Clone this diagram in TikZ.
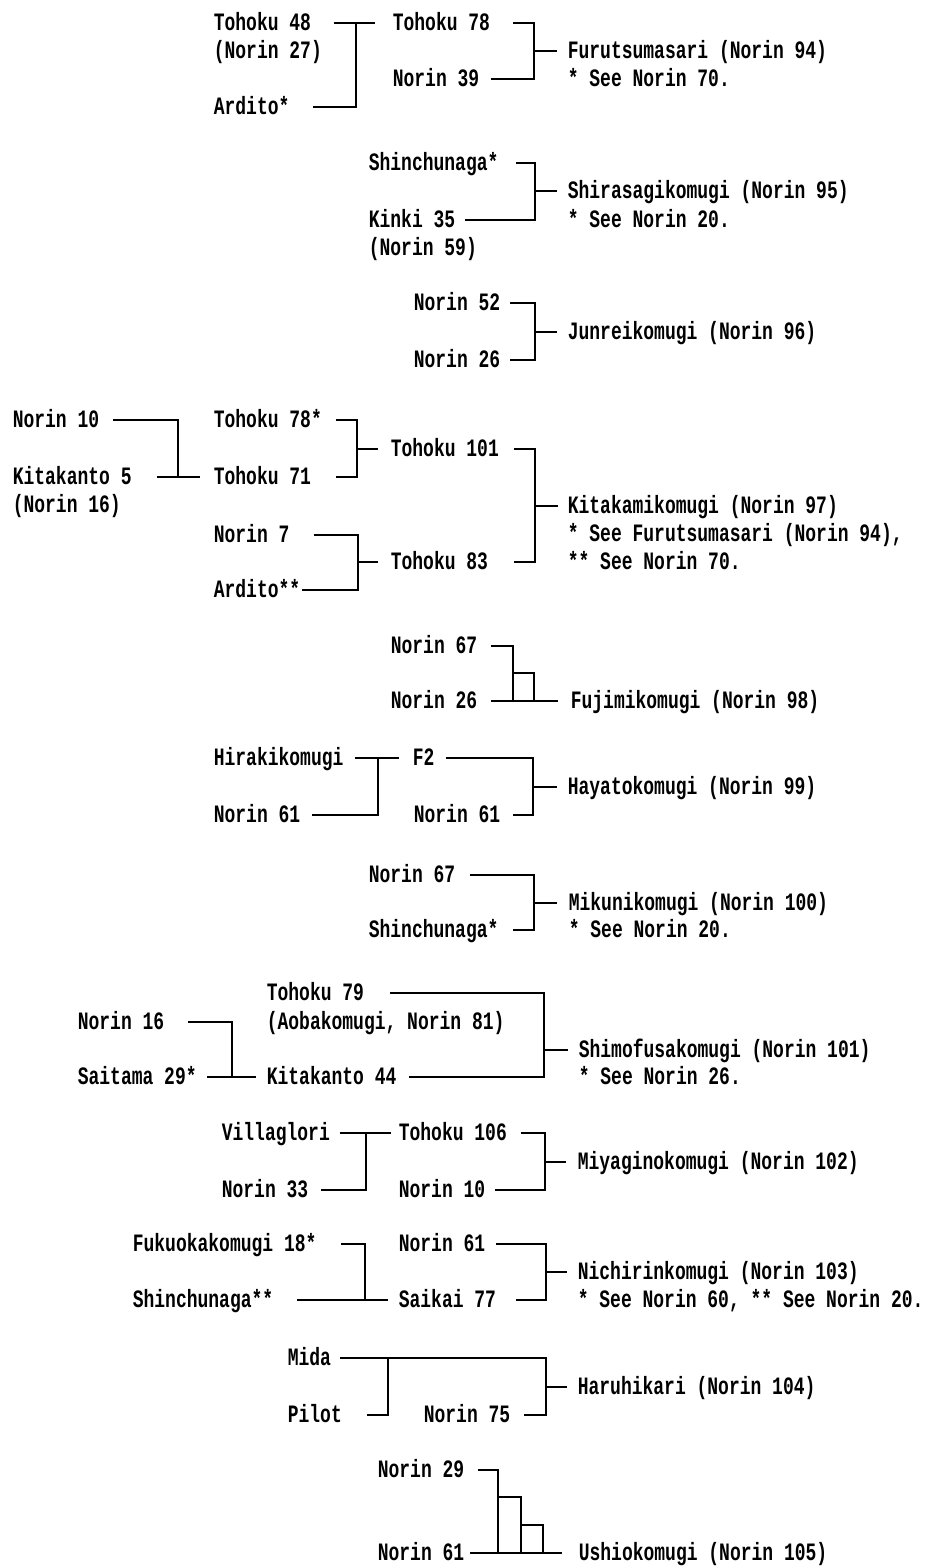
\documentclass[tikz,border=0pt]{standalone}
\usepackage{fontspec}
\newfontfamily\pedfont{Liberation Mono}[FakeStretch=0.72]
\begin{document}
\begin{tikzpicture}[x=1pt,y=-1pt,
  lbl/.style={anchor=west, inner sep=0pt, text height=15pt, text depth=0pt,
              font=\pedfont\bfseries\fontsize{25}{25}\selectfont},
  every path/.style={line width=1.6pt, line join=miter}]
\useasboundingbox (0,0) rectangle (931,1566);

% ---------- Furutsumasari (Norin 94)
\node[lbl] (t48)  at (213,23)  {Tohoku 48};
\node[lbl] (n27)  at (213,51)  {(Norin 27)};
\node[lbl] (ard1) at (213,107) {Ardito*};
\node[lbl] (t78)  at (392,23)  {Tohoku 78};
\node[lbl] (n39)  at (392,79)  {Norin 39};
\node[lbl] (furu) at (567,51)  {Furutsumasari (Norin 94)};
\node[lbl] (ft1)  at (567,79)  {* See Norin 70.};
\coordinate (j1) at (356,23);
\coordinate (k1) at (534,51);
\draw ([xshift=22pt]t48.east) -- ([xshift=-17pt]t78.west);
\draw (j1) |- ([xshift=23pt]ard1.east);
\draw ([xshift=22pt]t78.east) -| (k1 |- n39.east) -- ([xshift=11pt]n39.east);
\draw (k1) -- ([xshift=-10pt]furu.west);

% ---------- Shirasagikomugi (Norin 95)
\node[lbl] (shin1) at (368,163) {Shinchunaga*};
\node[lbl] (kinki) at (368,220) {Kinki 35};
\node[lbl] (n59)   at (368,248) {(Norin 59)};
\node[lbl] (shira) at (567,191) {Shirasagikomugi (Norin 95)};
\node[lbl] (ft2)   at (567,220) {* See Norin 20.};
\coordinate (k2) at (535,191);
\draw ([xshift=17pt]shin1.east) -| (k2 |- kinki.east) -- ([xshift=9pt]kinki.east);
\draw (k2) -- ([xshift=-10pt]shira.west);

% ---------- Junreikomugi (Norin 96)
\node[lbl] (n52)    at (413,303) {Norin 52};
\node[lbl] (n26a)   at (413,360) {Norin 26};
\node[lbl] (junrei) at (567,332) {Junreikomugi (Norin 96)};
\coordinate (k3) at (535,332);
\draw ([xshift=9pt]n52.east) -| (k3 |- n26a.east) -- ([xshift=9pt]n26a.east);
\draw (k3) -- ([xshift=-10pt]junrei.west);

% ---------- Kitakamikomugi (Norin 97)
\node[lbl] (n10a) at (12,420)  {Norin 10};
\node[lbl] (kt5)  at (12,477)  {Kitakanto 5};
\node[lbl] (n16a) at (12,505)  {(Norin 16)};
\node[lbl] (t78s) at (213,420) {Tohoku 78*};
\node[lbl] (t71)  at (213,477) {Tohoku 71};
\node[lbl] (n7)   at (213,535) {Norin 7};
\node[lbl] (ard2) at (213,590) {Ardito**};
\node[lbl] (t101) at (390,449) {Tohoku 101};
\node[lbl] (t83)  at (390,562) {Tohoku 83};
\node[lbl] (kita) at (567,506) {Kitakamikomugi (Norin 97)};
\node[lbl] (ft4a) at (567,534) {* See Furutsumasari (Norin 94),};
\node[lbl] (ft4b) at (567,562) {** See Norin 70.};
\coordinate (j4)  at (178,477);
\coordinate (k4a) at (357,449);
\coordinate (k4b) at (358,562);
\coordinate (k4)  at (535,506);
\draw ([xshift=13pt]n10a.east) -| (j4);
\draw ([xshift=25pt]kt5.east) -- ([xshift=-13pt]t71.west);
\draw ([xshift=13pt]t78s.east) -| (k4a |- t71.east) -- ([xshift=24pt]t71.east);
\draw (k4a) -- ([xshift=-12pt]t101.west);
\draw ([xshift=24pt]n7.east) -| (k4b |- ard2.east) -- ([xshift=1pt]ard2.east);
\draw (k4b) -- ([xshift=-12pt]t83.west);
\draw ([xshift=14pt]t101.east) -| (k4 |- t83.east) -- ([xshift=25pt]t83.east);
\draw (k4) -- ([xshift=-9pt]kita.west);

% ---------- Fujimikomugi (Norin 98)
\node[lbl] (n67a) at (390,646) {Norin 67};
\node[lbl] (n26b) at (390,701) {Norin 26};
\node[lbl] (fuji) at (570,701) {Fujimikomugi (Norin 98)};
\coordinate (q5)  at (513,701);
\coordinate (bx5) at (534,673);
\draw ([xshift=13pt]n67a.east) -| (q5);
\draw (q5 |- bx5) -| (bx5 |- q5);
\draw ([xshift=13pt]n26b.east) -- ([xshift=-12pt]fuji.west);

% ---------- Hayatokomugi (Norin 99)
\node[lbl] (hira) at (213,758) {Hirakikomugi};
\node[lbl] (n61a) at (213,815) {Norin 61};
\node[lbl] (f2n)  at (412,758) {F2};
\node[lbl] (n61b) at (413,815) {Norin 61};
\node[lbl] (hay)  at (567,787) {Hayatokomugi (Norin 99)};
\coordinate (j6) at (378,758);
\coordinate (k6) at (533,787);
\draw ([xshift=11pt]hira.east) -- ([xshift=-13pt]f2n.west);
\draw (j6) |- ([xshift=11pt]n61a.east);
\draw ([xshift=11pt]f2n.east) -| (k6 |- n61b.east) -- ([xshift=12pt]n61b.east);
\draw (k6) -- ([xshift=-10pt]hay.west);

% ---------- Mikunikomugi (Norin 100)
\node[lbl] (n67b)  at (368,875) {Norin 67};
\node[lbl] (shin2) at (368,930) {Shinchunaga*};
\node[lbl] (miku)  at (568,903) {Mikunikomugi (Norin 100)};
\node[lbl] (ft7)   at (568,930) {* See Norin 20.};
\coordinate (k7) at (534,903);
\draw ([xshift=14pt]n67b.east) -| (k7 |- shin2.east) -- ([xshift=14pt]shin2.east);
\draw (k7) -- ([xshift=-11pt]miku.west);

% ---------- Shimofusakomugi (Norin 101)
\node[lbl] (t79)   at (266,993)  {Tohoku 79};
\node[lbl] (aoba)  at (266,1022) {(Aobakomugi, Norin 81)};
\node[lbl] (n16b)  at (77,1022)  {Norin 16};
\node[lbl] (sai)   at (77,1077)  {Saitama 29*};
\node[lbl] (kk44)  at (266,1077) {Kitakanto 44};
\node[lbl] (shimo) at (578,1050) {Shimofusakomugi (Norin 101)};
\node[lbl] (ft8)   at (578,1077) {* See Norin 26.};
\coordinate (j8) at (232,1077);
\coordinate (k8) at (544,1050);
\draw ([xshift=23pt]n16b.east) -| (j8);
\draw ([xshift=10pt]sai.east) -- ([xshift=-10pt]kk44.west);
\draw ([xshift=25pt]t79.east) -| (k8 |- kk44.east) -- ([xshift=12pt]kk44.east);
\draw (k8) -- ([xshift=-10pt]shimo.west);

% ---------- Miyaginokomugi (Norin 102)
\node[lbl] (villa) at (221,1133) {Villaglori};
\node[lbl] (n33)   at (221,1190) {Norin 33};
\node[lbl] (t106)  at (398,1133) {Tohoku 106};
\node[lbl] (n10b)  at (398,1190) {Norin 10};
\node[lbl] (miya)  at (577,1162) {Miyaginokomugi (Norin 102)};
\coordinate (j9) at (366,1133);
\coordinate (k9) at (545,1162);
\draw ([xshift=9pt]villa.east) -- ([xshift=-7pt]t106.west);
\draw (j9) |- ([xshift=12pt]n33.east);
\draw ([xshift=13pt]t106.east) -| (k9 |- n10b.east) -- ([xshift=9pt]n10b.east);
\draw (k9) -- ([xshift=-11pt]miya.west);

% ---------- Nichirinkomugi (Norin 103)
\node[lbl] (fuku)   at (132,1244) {Fukuokakomugi 18*};
\node[lbl] (shin3)  at (132,1300) {Shinchunaga**};
\node[lbl] (n61c)   at (398,1244) {Norin 61};
\node[lbl] (saikai) at (398,1300) {Saikai 77};
\node[lbl] (nichi)  at (577,1272) {Nichirinkomugi (Norin 103)};
\node[lbl] (ft10)   at (577,1300) {* See Norin 60, ** See Norin 20.};
\coordinate (j10) at (365,1300);
\coordinate (k10) at (546,1272);
\draw ([xshift=24pt]fuku.east) -| (j10);
\draw ([xshift=23pt]shin3.east) -- ([xshift=-10pt]saikai.west);
\draw ([xshift=10pt]n61c.east) -| (k10 |- saikai.east) -- ([xshift=19pt]saikai.east);
\draw (k10) -- ([xshift=-10pt]nichi.west);

% ---------- Haruhikari (Norin 104)
\node[lbl] (mida)  at (287,1358) {Mida};
\node[lbl] (pilot) at (287,1415) {Pilot};
\node[lbl] (n75)   at (423,1415) {Norin 75};
\node[lbl] (haru)  at (577,1387) {Haruhikari (Norin 104)};
\coordinate (j11) at (388,1358);
\coordinate (k11) at (546,1387);
\draw ([xshift=8pt]mida.east) -| (k11 |- n75.east) -- ([xshift=13pt]n75.east);
\draw (j11) |- ([xshift=24pt]pilot.east);
\draw (k11) -- ([xshift=-10pt]haru.west);

% ---------- Ushiokomugi (Norin 105)
\node[lbl] (n29)   at (377,1470) {Norin 29};
\node[lbl] (n61d)  at (377,1553) {Norin 61};
\node[lbl] (ushio) at (578,1553) {Ushiokomugi (Norin 105)};
\coordinate (q12)  at (498,1553);
\coordinate (b12a) at (521,1497);
\coordinate (b12b) at (543,1525);
\draw ([xshift=13pt]n29.east) -| (q12);
\draw (q12 |- b12a) -| (b12a |- q12);
\draw (b12a |- b12b) -| (b12b |- q12);
\draw ([xshift=5pt]n61d.east) -- ([xshift=-16pt]ushio.west);
\end{tikzpicture}
\end{document}
